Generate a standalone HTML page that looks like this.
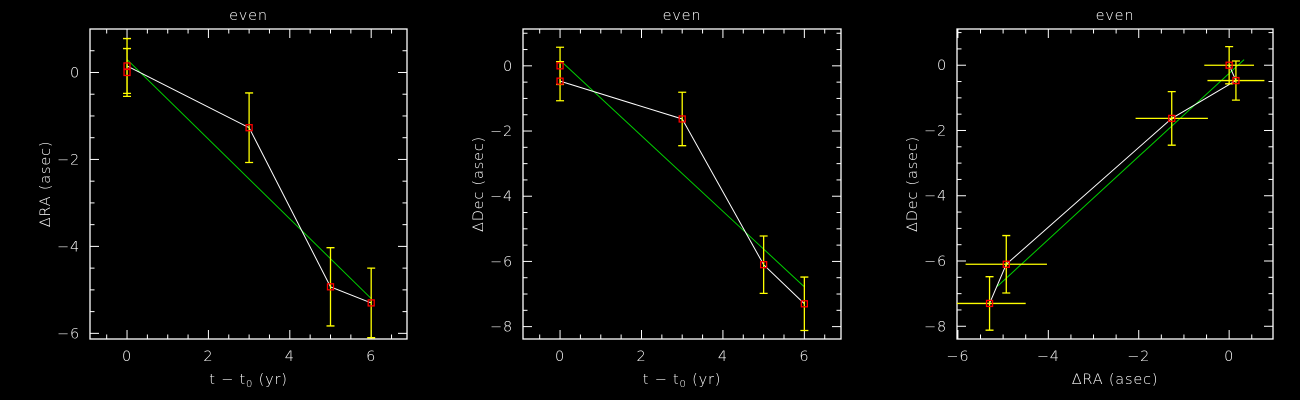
<!DOCTYPE html>
<html><head><meta charset="utf-8"><style>
html,body{margin:0;padding:0;background:#000;}
svg{display:block;font-family:"DejaVu Sans","Liberation Sans",sans-serif;}
text{fill:#fff;font-size:14.5px;letter-spacing:0.8px;font-weight:300;}
</style></head><body>
<svg id="c" width="1300" height="400" viewBox="0 0 1300 400" xmlns="http://www.w3.org/2000/svg"></svg>
<script>
// Data
const tVals = [0, 0, 3, 5, 6];
const raVals = [0.0, 0.15, -1.27, -4.93, -5.3];
const raErr = [0.55, 0.63, 0.8, 0.9, 0.8];
const decVals = [0.0, -0.47, -1.63, -6.1, -7.3];
const decErr = [0.57, 0.6, 0.82, 0.88, 0.82];
const raFitT = [0, 6];
const raFitV = [0.3, -5.2];
const decFitT = [0, 6];
const decFitV = [0.17, -6.78];
const skyFitRA = [-5.13, 0.33];
const skyFitDec = [-6.78, 0.17];
const pathOrder1 = [1, 2, 3, 4];
const pathOrder2 = [1, 2, 3, 4];
const pathOrder3 = [0, 1, 2, 3, 4];
const tTicks = [0, 2, 4, 6];
const raTicks = [0, -2, -4, -6];
const decTicks = [0, -2, -4, -6, -8];
const skyXTicks = [-6, -4, -2, 0];

const NS = 'http://www.w3.org/2000/svg';
const svg = document.getElementById('c');
function mk(tag, attrs, parent) {
  const e = document.createElementNS(NS, tag);
  for (const k in attrs) e.setAttribute(k, attrs[k]);
  (parent || svg).appendChild(e);
  return e;
}
function panel(cfg) {
  const g = mk('g', {});
  
  
  const L = cfg.box[0], R = cfg.box[1], T = 29, B = 339;
  const sx = v => L + (v - cfg.xr[0]) / (cfg.xr[1] - cfg.xr[0]) * (R - L);
  const sy = v => B - (v - cfg.yr[0]) / (cfg.yr[1] - cfg.yr[0]) * (B - T);
  const frame = mk('rect', {x: L, y: T, width: R - L, height: B - T, fill: 'none', stroke: '#fff', 'stroke-width': 1.3}, g);
  
  
  for (let v = Math.ceil(cfg.xr[0] * 2) / 2; v <= cfg.xr[1]; v += 0.5) {
    const maj = Math.abs(v % 2) < 1e-6;
    const len = maj ? 9 : 4.5, x = sx(v);
    mk('line', {x1: x, x2: x, y1: B, y2: B - len, stroke: '#fff'}, g);
    mk('line', {x1: x, x2: x, y1: T, y2: T + len, stroke: '#fff'}, g);
  }
  for (let v = Math.ceil(cfg.yr[0] * 2) / 2; v <= cfg.yr[1]; v += 0.5) {
    const maj = Math.abs(v % 2) < 1e-6;
    const len = maj ? 9 : 4.5, y = sy(v);
    mk('line', {x1: L, x2: L + len, y1: y, y2: y, stroke: '#fff'}, g);
    mk('line', {x1: R, x2: R - len, y1: y, y2: y, stroke: '#fff'}, g);
  }
  cfg.xt.forEach(v => {
    const t = mk('text', {x: sx(v), y: B + 22, 'text-anchor': 'middle'}, g);
    t.textContent = v < 0 ? '\u2212' + (-v) : String(v);
    
    
  });
  cfg.yt.forEach(v => {
    const t = mk('text', {x: L - 10, y: sy(v) + 5, 'text-anchor': 'end'}, g);
    t.textContent = v < 0 ? '\u2212' + (-v) : String(v);
    
    
  });
  const ti = mk('text', {x: (L + R) / 2, y: 20, 'text-anchor': 'middle'}, g);
  ti.textContent = 'even';
  
  
  const xl = mk('text', {x: (L + R) / 2, y: 384, 'text-anchor': 'middle'}, g);
  xl.innerHTML = cfg.xlabel;
  
  
  const yx = L - 40, yy = (T + B) / 2;
  const yl = mk('text', {x: yx, y: yy, 'text-anchor': 'middle', transform: `rotate(-90 ${yx} ${yy})`}, g);
  yl.textContent = cfg.ylabel;
  
  
  const clipId = 'clip' + cfg.name;
  const cp = mk('clipPath', {id: clipId}, g);
  mk('rect', {x: L, y: T, width: R - L, height: B - T}, cp);
  const pg = mk('g', {'clip-path': `url(#${clipId})`}, g);
  const fit = mk('line', {x1: sx(cfg.fx[0]), y1: sy(cfg.fy[0]), x2: sx(cfg.fx[1]), y2: sy(cfg.fy[1]), stroke: '#00d000', 'stroke-width': 1}, pg);
  
  
  const pts = cfg.order.map(i => sx(cfg.px[i]) + ',' + sy(cfg.py[i])).join(' ');
  const pl = mk('polyline', {points: pts, fill: 'none', stroke: '#fff', 'stroke-width': 1}, pg);
  
  
  cfg.px.forEach((xv, i) => {
    const x = sx(xv), y = sy(cfg.py[i]);
    if (cfg.ey) {
      const y1 = sy(cfg.py[i] + cfg.ey[i]), y2 = sy(cfg.py[i] - cfg.ey[i]);
      const e = mk('path', {d: `M${x},${y1}V${y2}M${x - 4},${y1}H${x + 4}M${x - 4},${y2}H${x + 4}`, stroke: '#ffff00', fill: 'none', 'stroke-width': 1.3}, pg);
      
      
    }
    if (cfg.ex) {
      const x1 = sx(xv - cfg.ex[i]), x2 = sx(xv + cfg.ex[i]);
      const e = mk('line', {x1: x1, x2: x2, y1: y, y2: y, stroke: '#ffff00', 'stroke-width': 1.3}, pg);
      
      
    }
  });
  cfg.px.forEach((xv, i) => {
    const x = sx(xv), y = sy(cfg.py[i]);
    const m = mk('rect', {x: x - 3, y: y - 3, width: 6, height: 6, fill: 'none', stroke: '#ff0000', 'stroke-width': 1.3}, pg);
    
    
  });
}
panel({name: 'ra-vs-time-panel', box: [90, 407], xr: [-0.91, 6.88], yr: [-6.13, 1.0],
  xt: tTicks, yt: raTicks, xlabel: 't \u2212 t<tspan font-size="10" dy="3">0</tspan><tspan dy="-3"> (yr)</tspan>', ylabel: '\u0394RA (asec)',
  px: tVals, py: raVals, ey: raErr, ex: null, fx: raFitT, fy: raFitV, order: pathOrder1});
panel({name: 'dec-vs-time-panel', box: [523, 841], xr: [-0.91, 6.9], yr: [-8.38, 1.13],
  xt: tTicks, yt: decTicks, xlabel: 't \u2212 t<tspan font-size="10" dy="3">0</tspan><tspan dy="-3"> (yr)</tspan>', ylabel: '\u0394Dec (asec)',
  px: tVals, py: decVals, ey: decErr, ex: null, fx: decFitT, fy: decFitV, order: pathOrder2});
panel({name: 'dec-vs-ra-panel', box: [957, 1273], xr: [-6.02, 0.97], yr: [-8.39, 1.11],
  xt: skyXTicks, yt: decTicks, xlabel: '\u0394RA (asec)', ylabel: '\u0394Dec (asec)',
  px: raVals, py: decVals, ey: decErr, ex: raErr, fx: skyFitRA, fy: skyFitDec, order: pathOrder3});
</script>
</body></html>
